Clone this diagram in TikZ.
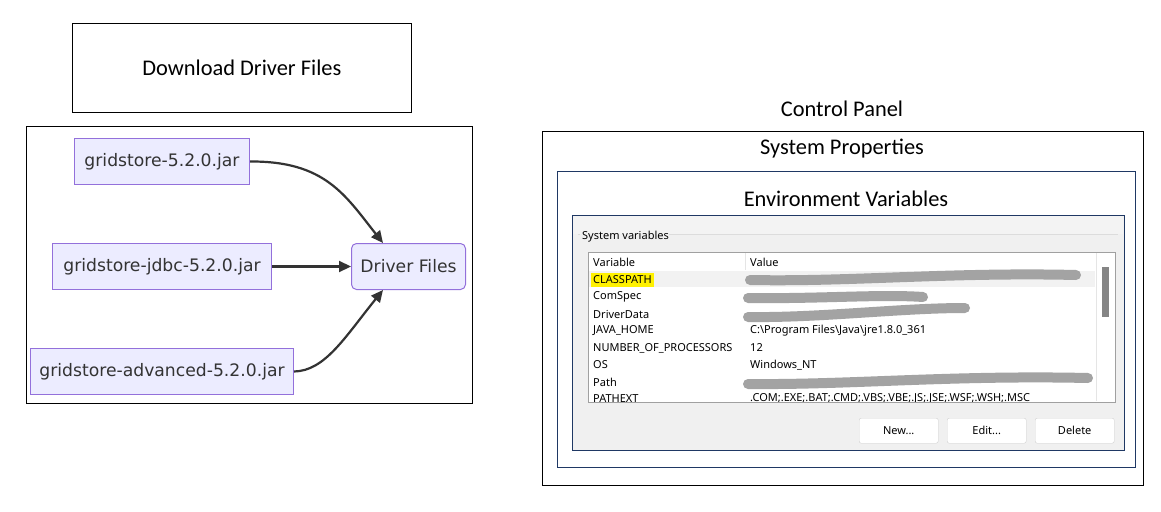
\documentclass[tikz,border=0pt]{standalone}
\usepackage{fontspec}
\setmainfont{Carlito}
\newfontfamily\mer{DejaVu Sans}
\newfontfamily\seg{Noto Sans}
\usetikzlibrary{arrows.meta}
\definecolor{merfill}{HTML}{ECECFF}
\definecolor{merline}{HTML}{9370DB}
\definecolor{mertext}{HTML}{333333}
\definecolor{navy}{HTML}{1F3864}
\definecolor{dlg}{HTML}{F0F0F0}
\definecolor{dlgtop}{HTML}{F3F3F3}
\definecolor{grpline}{HTML}{DCDCDC}
\definecolor{listline}{HTML}{A0A0A0}
\definecolor{sepline}{HTML}{E5E5E5}
\definecolor{rowsel}{HTML}{F2F2F2}
\definecolor{thumb}{HTML}{858585}
\definecolor{hilite}{HTML}{FFF100}
\definecolor{btnline}{HTML}{D0D0D0}
\definecolor{blur}{HTML}{A3A3A3}
\tikzset{
  x=1pt,y=-1pt,
  mernode/.style={draw=merline,fill=merfill,line width=1pt,text=mertext,font=\mer\fontsize{17.2}{20}\selectfont,inner sep=0pt,anchor=north west},
  merarrow/.style={draw=mertext,line width=2.2pt,-{Triangle[length=12pt,width=11pt]}},
  title/.style={font=\fontsize{22.4}{26}\selectfont,inner sep=0pt},
  wintext/.style={font=\seg\fontsize{11}{13}\selectfont,inner sep=0pt,anchor=west},
  blurbar/.style={draw=blur,line width=10pt,line cap=round},
  winbtn/.style={draw=btnline,fill=white,rounded corners=2pt,font=\seg\fontsize{11}{13}\selectfont,inner sep=0pt,anchor=north west},
}
\begin{document}
\begin{tikzpicture}
\useasboundingbox[fill=white] (0,0) rectangle (1161,511);
% Left part
\node[draw=black,line width=0.8pt,minimum width=339pt,minimum height=89pt,anchor=north west,title] (dl) at (72,23) {Download Driver Files};
\node[draw=black,line width=0.8pt,minimum width=446pt,minimum height=277pt,anchor=north west,inner sep=0pt] (lframe) at (26,126) {};
\node[mernode,minimum width=175pt,minimum height=46pt] (g1) at (74,138) {gridstore-5.2.0.jar};
\node[mernode,minimum width=219pt,minimum height=46pt] (g2) at (52,243) {gridstore-jdbc-5.2.0.jar};
\node[mernode,minimum width=263pt,minimum height=46pt] (g3) at (30,348) {gridstore-advanced-5.2.0.jar};
\node[mernode,rounded corners=5pt,minimum width=114pt,minimum height=46pt] (df) at (351,243) {Driver Files};
\draw[merarrow] (g1.east) .. controls (325,161) and (345,195) .. ([xshift=32pt]df.north west);
\draw[merarrow] (g2.east) -- (df.west);
\draw[merarrow] (g3.east) .. controls (325,371) and (345,337) .. ([xshift=32pt]df.south west);
% Right part
\node[title] (cp) at (842,109) {Control Panel};
\node[draw=black,line width=0.8pt,minimum width=601pt,minimum height=354pt,anchor=north west,inner sep=0pt] (sysframe) at (542,131) {};
\node[title] (sp) at (842,149) {System Properties};
\node[draw=navy,line width=0.9pt,minimum width=578pt,minimum height=296pt,anchor=north west,inner sep=0pt] (envframe) at (557,171) {};
\node[title] (ev) at (846,199) {Environment Variables};
% screenshot
\node[draw=navy,fill=dlg,line width=0.9pt,minimum width=552pt,minimum height=235pt,anchor=north west,inner sep=0pt] (shot) at (572,215) {};
\fill[dlgtop] (573,216) rectangle (1123,234);
\draw[grpline,line width=0.8pt] (669,234) -- (1118,234);
\draw[grpline,line width=0.8pt] (578,234) -- (580,234);
\node[wintext] (sv) at (582,237) {System variables};
\node[draw=listline,fill=white,line width=0.8pt,minimum width=527pt,minimum height=150pt,anchor=north west,inner sep=0pt] (list) at (588,252) {};
\fill[rowsel] (589,271) rectangle (1095,287);
\draw[sepline,line width=0.8pt] (745,253) -- (745,270);
\draw[sepline,line width=0.8pt] (1096,253) -- (1096,401);
\fill[thumb] (1102,267) rectangle (1109,317);
\fill[hilite] (591,273) rectangle (654,287);
\begin{scope}
\clip (589,253) rectangle (1095,401);
\node[wintext] (hv) at (593,262) {Variable};
\node[wintext] (hval) at (750,262) {Value};
\node[wintext] (r1) at (593,280) {CLASSPATH};
\node[wintext] (r2) at (593,297) {ComSpec};
\node[wintext] (r3) at (593,314) {DriverData};
\node[wintext] (r4) at (593,331) {JAVA\_HOME};
\node[wintext] (r5) at (593,348) {NUMBER\_OF\_PROCESSORS};
\node[wintext] (r6) at (593,365) {OS};
\node[wintext] (r7) at (593,382) {Path};
\node[wintext] (r8) at (593,399) {PATHEXT};
\node[wintext] (v4) at (750,331) {C:\textbackslash Program Files\textbackslash Java\textbackslash jre1.8.0\_361};
\node[wintext] (v5) at (750,348) {12};
\node[wintext] (v6) at (750,365) {Windows\_NT};
\node[wintext] (v8) at (750,399) {.COM;.EXE;.BAT;.CMD;.VBS;.VBE;.JS;.JSE;.WSF;.WSH;.MSC};
\end{scope}
\draw[blurbar] (750,280) .. controls (850,282) and (950,272) .. (1076,275);
\draw[blurbar] (748,298) .. controls (820,299) and (880,294) .. (923,297);
\draw[blurbar] (748,317) .. controls (820,318) and (900,308) .. (965,308);
\draw[blurbar] (748,384) .. controls (850,385) and (950,375) .. (1088,378);
% buttons
\node[winbtn,minimum width=79pt,minimum height=25pt] (bnew) at (859,418) {New...};
\node[winbtn,minimum width=79pt,minimum height=25pt] (bedit) at (947,418) {Edit...};
\node[winbtn,minimum width=79pt,minimum height=25pt] (bdel) at (1035,418) {Delete};
\end{tikzpicture}
\end{document}
